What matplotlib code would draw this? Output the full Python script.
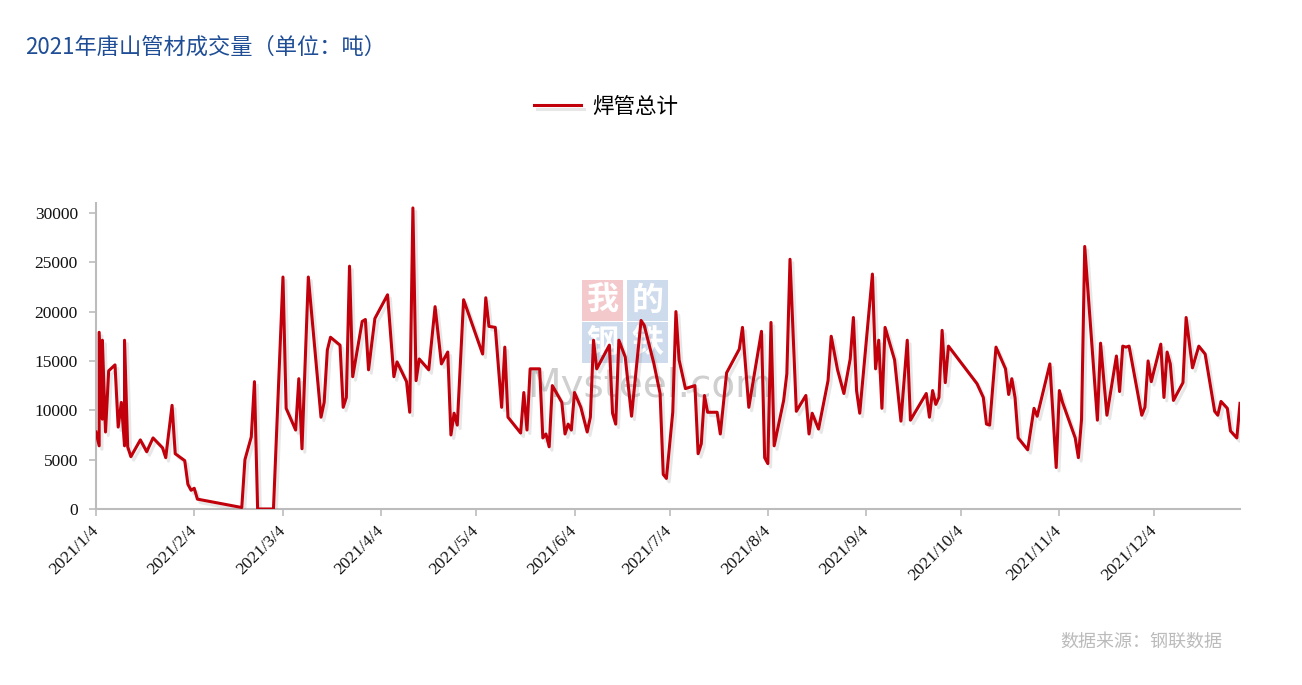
import matplotlib.pyplot as plt
import matplotlib.patheffects as pe
from matplotlib.patches import Rectangle
import pandas as pd

# 日期 (2021年) 与 焊管总计 成交量 (吨)
days = [
    "1/4", "1/5", "1/5", "1/6", "1/6", "1/7", "1/8", "1/10", "1/11", "1/12",
    "1/13", "1/13", "1/14", "1/15", "1/18", "1/20", "1/22", "1/25", "1/26", "1/28",
    "1/29", "2/1", "2/2", "2/3", "2/4", "2/5", "2/19", "2/20", "2/22", "2/23",
    "2/24", "3/1", "3/4", "3/5", "3/8", "3/9", "3/10", "3/12", "3/16", "3/17",
    "3/18", "3/19", "3/22", "3/23", "3/24", "3/25", "3/26", "3/29", "3/30", "3/31",
    "4/2", "4/6", "4/8", "4/9", "4/12", "4/13", "4/14", "4/15", "4/16", "4/19",
    "4/21", "4/23", "4/25", "4/26", "4/27", "4/28", "4/30", "5/6", "5/7", "5/8",
    "5/10", "5/12", "5/13", "5/14", "5/18", "5/19", "5/20", "5/21", "5/24", "5/25",
    "5/26", "5/27", "5/28", "5/31", "6/1", "6/2", "6/3", "6/4", "6/6", "6/8",
    "6/9", "6/10", "6/11", "6/15", "6/16", "6/17", "6/18", "6/20", "6/22", "6/25",
    "6/26", "6/29", "7/1", "7/2", "7/3", "7/5", "7/6", "7/7", "7/9", "7/12",
    "7/13", "7/14", "7/15", "7/16", "7/19", "7/20", "7/22", "7/26", "7/27", "7/29",
    "8/2", "8/3", "8/4", "8/5", "8/6", "8/9", "8/10", "8/11", "8/13", "8/16",
    "8/17", "8/18", "8/20", "8/23", "8/24", "8/26", "8/28", "8/30", "8/31", "9/1",
    "9/2", "9/6", "9/7", "9/8", "9/9", "9/10", "9/13", "9/15", "9/17", "9/18",
    "9/23", "9/24", "9/25", "9/26", "9/27", "9/28", "9/29", "9/30", "10/9", "10/11",
    "10/12", "10/13", "10/15", "10/18", "10/19", "10/20", "10/21", "10/22", "10/25", "10/27",
    "10/28", "11/1", "11/3", "11/4", "11/5", "11/9", "11/10", "11/11", "11/12", "11/16",
    "11/17", "11/19", "11/22", "11/23", "11/24", "11/25", "11/26", "11/30", "12/1", "12/2",
    "12/3", "12/6", "12/7", "12/8", "12/9", "12/10", "12/13", "12/14", "12/16", "12/18",
    "12/20", "12/23", "12/24", "12/25", "12/27", "12/28", "12/30", "12/31",
]
volume = [
    7800, 6400, 17900, 9100, 17100, 7800, 14000, 14600, 8300, 10800,
    6400, 17100, 6300, 5300, 7000, 5800, 7200, 6200, 5200, 10500,
    5600, 4900, 2500, 1900, 2100, 1000, 150, 5000, 7300, 12900,
    0, 0, 23500, 10200, 8000, 13200, 6100, 23500, 9300, 10800,
    16100, 17400, 16600, 10300, 11300, 24600, 13400, 19000, 19200, 14100,
    19300, 21700, 13400, 14900, 12900, 9800, 30500, 13000, 15200, 14100,
    20500, 14700, 15900, 7500, 9700, 8500, 21200, 15700, 21400, 18500,
    18400, 10300, 16400, 9300, 7700, 11800, 8000, 14200, 14200, 7200,
    7600, 6300, 12500, 10800, 7600, 8600, 8000, 11800, 10300, 7800,
    9300, 17100, 14200, 16600, 9700, 8600, 17100, 15400, 9400, 19100,
    18600, 14800, 11700, 3500, 3100, 9800, 20000, 15100, 12200, 12500,
    5600, 6600, 11500, 9800, 9800, 7600, 13800, 16200, 18400, 10300,
    18000, 5200, 4600, 18900, 6400, 11000, 13700, 25300, 9900, 11500,
    7600, 9700, 8100, 13000, 17500, 14100, 11700, 15200, 19400, 12000,
    9700, 23800, 14200, 17100, 10200, 18400, 15100, 8900, 17100, 9000,
    11700, 9300, 12000, 10600, 11300, 18100, 12800, 16500, 12700, 11300,
    8600, 8500, 16400, 14200, 11600, 13200, 11300, 7200, 6000, 10200,
    9400, 14700, 4200, 12000, 10800, 7200, 5200, 9100, 26600, 9000,
    16800, 9500, 15500, 11900, 16500, 16400, 16500, 9500, 10300, 15000,
    12900, 16700, 11300, 15900, 14700, 11000, 12800, 19400, 14300, 16500,
    15700, 9900, 9500, 10900, 10200, 7900, 7200, 10700,
]
tick_days = ["1/4", "2/4", "3/4", "4/4", "5/4", "6/4", "7/4", "8/4", "9/4", "10/4", "11/4", "12/4"]
y_ticks = [0, 5000, 10000, 15000, 20000, 25000, 30000]

dates = pd.to_datetime(["2021/" + d for d in days], format="%Y/%m/%d")
tick_dates = pd.to_datetime(["2021/" + d for d in tick_days], format="%Y/%m/%d")

cjk = ["Noto Sans CJK SC", "DejaVu Sans"]
serif = ["Liberation Serif", "DejaVu Serif"]

W, H = 1302, 685
fig = plt.figure(figsize=(13.02, 6.85), dpi=100)
ax = fig.add_axes([96 / W, 1 - 509 / H, (1240 - 96) / W, (509 - 203) / H])
ax.patch.set_alpha(0)

# 水印
boxes = [("我", 582, 280, "#f3c3c7"), ("的", 627, 280, "#c8d8ea"),
         ("钢", 582, 322, "#c8d8ea"), ("铁", 627, 322, "#c8d8ea")]
for ch, px, py, col in boxes:
    ax.add_patch(Rectangle((px / W, 1 - (py + 41) / H), 41 / W, 41 / H, transform=fig.transFigure,
                           facecolor=col, edgecolor="none", alpha=0.9, zorder=0, clip_on=False))
    ax.text((px + 20.5) / W, 1 - (py + 20.5) / H, ch, transform=fig.transFigure, ha="center",
            va="center", fontsize=23, color="white", fontweight="bold", family=cjk, zorder=0,
            clip_on=False)
ax.text(650 / W, 1 - 386 / H, "Mysteel.com", transform=fig.transFigure, ha="center", va="center",
        fontsize=28, color="#cfcfcf", family=["DejaVu Sans"], zorder=0, clip_on=False)

ax.plot(dates, volume, color="#c1000b", linewidth=2.2, zorder=3,
        path_effects=[pe.SimpleLineShadow(offset=(2, -2.5), shadow_color="#888888", alpha=0.2),
                      pe.Normal()], label="焊管总计")

ax.set_xlim(pd.Timestamp("2021-01-04"), pd.Timestamp("2021-12-31"))
ax.set_ylim(0, 31000)
ax.set_yticks(y_ticks)
ax.set_yticklabels([str(v) for v in y_ticks], family=serif, fontsize=12.5)
ax.set_xticks(tick_dates)
ax.set_xticklabels([f"2021/{d}" for d in tick_days], family=serif, fontsize=12.5,
                   rotation=45, ha="right", va="center", rotation_mode="anchor")

for s in ["top", "right"]:
    ax.spines[s].set_visible(False)
for s in ["left", "bottom"]:
    ax.spines[s].set_color("#bcbcbc")
    ax.spines[s].set_linewidth(1.5)
ax.tick_params(axis="both", colors="#bcbcbc", width=1.2, length=5, labelcolor="#111111")
ax.tick_params(axis="x", pad=9)
ax.tick_params(axis="y", pad=8)

fig.text(25 / W, 1 - 47 / H, "2021年唐山管材成交量（单位：吨）", ha="left", va="center",
         fontsize=16, color="#1f4e96", family=cjk)
fig.legend(loc="center", bbox_to_anchor=(606 / W, 1 - 107 / H), frameon=False,
           prop={"family": cjk, "size": 15.5}, handlelength=2.2, handletextpad=0.5)
fig.text(1222 / W, 1 - 642 / H, "数据来源：钢联数据", ha="right", va="center",
         fontsize=13, color="#bbbbbb", family=cjk)

fig.savefig("out.png", dpi=100)
